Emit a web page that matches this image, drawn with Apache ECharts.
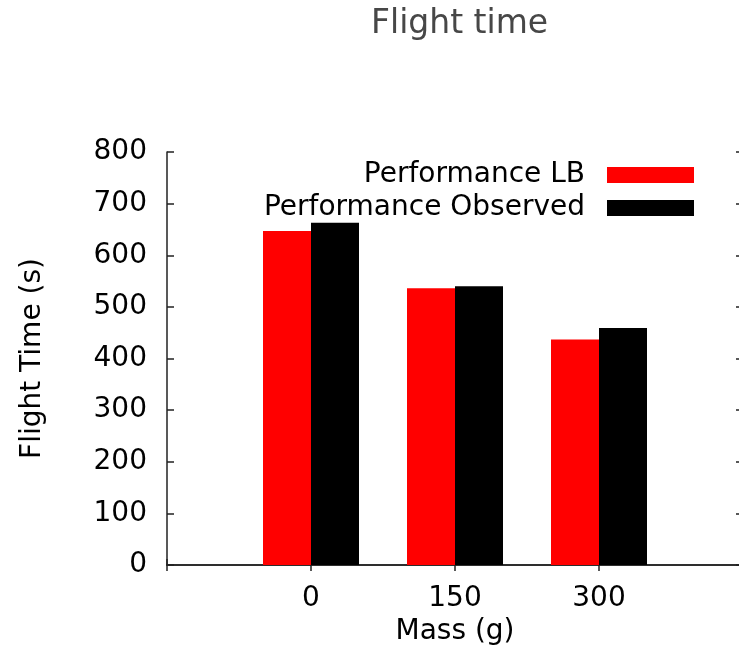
<!DOCTYPE html>
<html>
<head>
<meta charset="utf-8">
<title>Flight time</title>
<script src="https://cdn.jsdelivr.net/npm/echarts@6/dist/echarts.min.js"></script>
<style>
  html, body { margin: 0; padding: 0; background: #fff; }
  #chart { width: 739px; height: 669px; }
</style>
</head>
<body>
<div id="chart"></div>
<script>
// categories (empty slots pad the axis like gnuplot's xrange [-1:3])
var massLabels = ['', '0', '150', '300', ''];
var lbValues = [null, 647, 536, 437, null];
var observedValues = [null, 663, 540, 459, null];
var seriesNames = ['Performance LB', 'Performance Observed'];
var colors = ['#ff0000', '#000000'];

var font = 'DejaVu Sans';
var lineStyle = { color: '#222', width: 1.5 };

var chart = echarts.init(document.getElementById('chart'));

var option = {
  animation: false,
  color: colors,
  title: {
    text: 'Flight time',
    left: 366,
    top: 3,
    textStyle: { fontFamily: font, fontSize: 33, fontWeight: 'normal', color: '#474747' }
  },
  legend: {
    orient: 'vertical',
    align: 'right',
    right: 40,
    top: 156,
    itemWidth: 87,
    itemHeight: 16,
    itemGap: 5,
    icon: 'rect',
    data: seriesNames,
    textStyle: { fontFamily: font, fontSize: 28, color: '#000', padding: [0, 17, 0, 0] }
  },
  grid: {
    left: 167,
    top: 152,
    width: 576,
    bottom: 104,
    outerBoundsMode: 'none'
  },
  xAxis: [
    {
      type: 'category',
      data: massLabels,
      boundaryGap: false,
      position: 'bottom',
      name: 'Mass (g)',
      nameLocation: 'middle',
      nameGap: 48,
      nameTextStyle: { fontFamily: font, fontSize: 28, color: '#000' },
      axisLine: { lineStyle: lineStyle },
      axisTick: { inside: true, length: 6, lineStyle: lineStyle },
      axisLabel: { fontFamily: font, fontSize: 28, color: '#000', margin: 20, interval: 0 },
      splitLine: { show: false }
    },
    {
      type: 'category',
      data: massLabels,
      boundaryGap: false,
      position: 'top',
      axisLine: { lineStyle: lineStyle },
      axisTick: { inside: true, length: 6, lineStyle: lineStyle },
      axisLabel: { show: false },
      splitLine: { show: false }
    }
  ],
  yAxis: [
    {
      type: 'value',
      min: 0,
      max: 800,
      interval: 100,
      position: 'left',
      name: 'Flight Time (s)',
      nameLocation: 'middle',
      nameGap: 120,
      nameTextStyle: { fontFamily: font, fontSize: 28, color: '#000' },
      axisLine: { show: true, lineStyle: lineStyle },
      axisTick: { show: true, inside: true, length: 7, lineStyle: lineStyle },
      axisLabel: { fontFamily: font, fontSize: 28, color: '#000', margin: 20 },
      splitLine: { show: false }
    },
    {
      type: 'value',
      min: 0,
      max: 800,
      interval: 100,
      position: 'right',
      axisLine: { show: true, lineStyle: lineStyle },
      axisTick: { show: true, inside: true, length: 7, lineStyle: lineStyle },
      axisLabel: { show: false },
      splitLine: { show: false }
    }
  ],
  series: [
    {
      name: seriesNames[0],
      type: 'bar',
      data: lbValues,
      barWidth: 48,
      barGap: '0%',
      itemStyle: { color: colors[0] }
    },
    {
      name: seriesNames[1],
      type: 'bar',
      data: observedValues,
      barWidth: 48,
      barGap: '0%',
      itemStyle: { color: colors[1] }
    }
  ]
};

chart.setOption(option);
</script>
</body>
</html>
